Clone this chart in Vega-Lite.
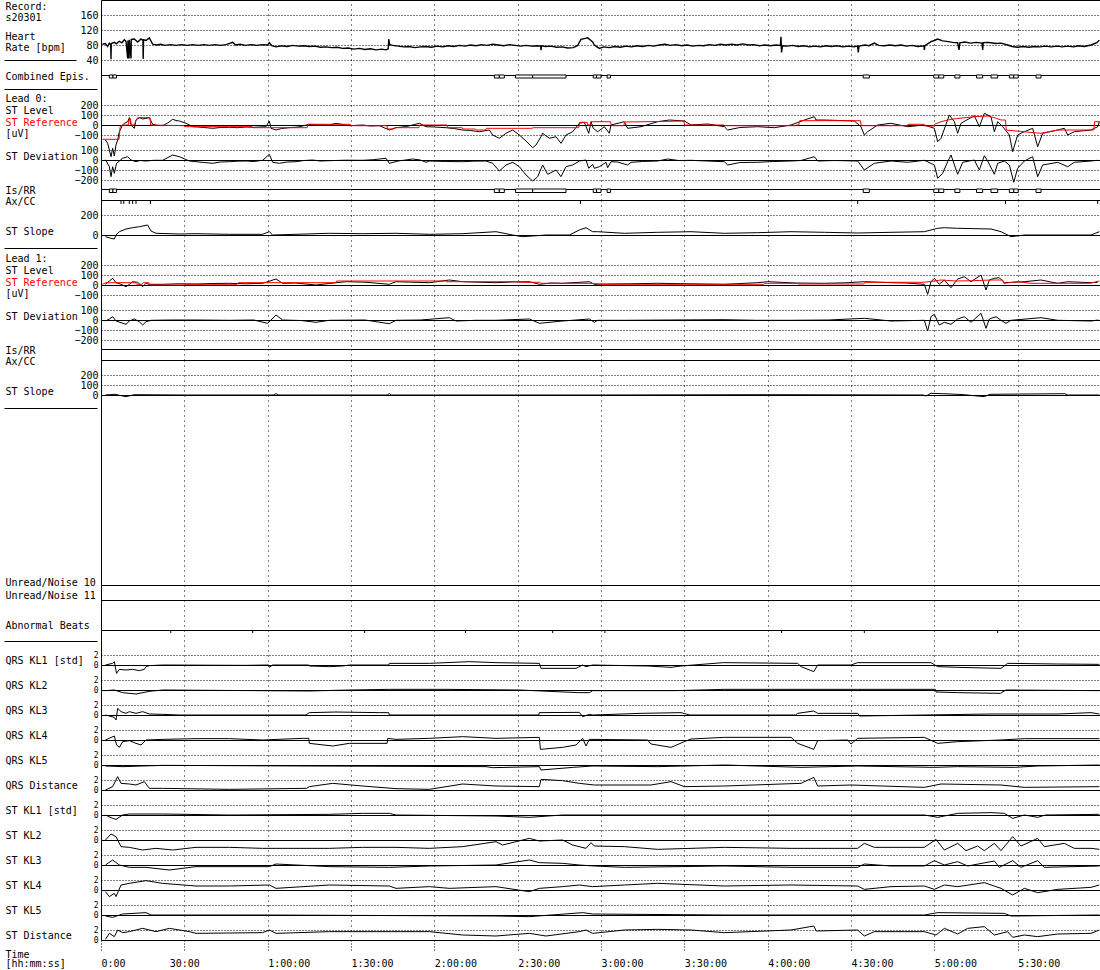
{
"$schema":"https://vega.github.io/schema/vega-lite/v6.json",
"padding":{"left":3,"top":0,"right":0,"bottom":0},
"background":"#ffffff",
"spacing":0,
"bounds":"flush",
"resolve":{"scale":{"x":"independent","y":"independent"}},
"datasets":{
"hr":[{"t":0.5,"v":82},{"t":1.6,"v":84},{"t":2.4,"v":76},{"t":3.0,"v":85},{"t":3.5,"v":81},{"t":3.6,"v":42},{"t":3.7,"v":84},{"t":4.8,"v":87},{"t":5.5,"v":83},{"t":6.6,"v":90},{"t":7.5,"v":86},{"t":8.4,"v":94},{"t":9.0,"v":90},{"t":9.6,"v":44},{"t":9.7,"v":92},{"t":10.1,"v":44},{"t":10.2,"v":94},{"t":10.8,"v":44},{"t":10.9,"v":95},{"t":12,"v":96},{"t":13.2,"v":88},{"t":14.4,"v":96},{"t":15.1,"v":92},{"t":15.2,"v":43},{"t":15.3,"v":94},{"t":16.2,"v":92},{"t":17.4,"v":99},{"t":18.6,"v":82},{"t":20,"v":80},{"t":21.5,"v":82},{"t":23,"v":79},{"t":25,"v":81},{"t":27,"v":79},{"t":29,"v":81},{"t":31,"v":79},{"t":33,"v":81},{"t":35,"v":79},{"t":37,"v":81},{"t":39,"v":79},{"t":41,"v":81},{"t":43,"v":79},{"t":45,"v":81},{"t":47.4,"v":87},{"t":48.5,"v":80},{"t":50,"v":82},{"t":52,"v":79},{"t":54,"v":81},{"t":56,"v":79},{"t":58,"v":81},{"t":60,"v":80},{"t":60.6,"v":86},{"t":61.5,"v":78},{"t":63,"v":75},{"t":65,"v":78},{"t":67,"v":76},{"t":69,"v":79},{"t":71,"v":77},{"t":73,"v":78},{"t":75,"v":76},{"t":77,"v":77},{"t":79,"v":74},{"t":81,"v":75},{"t":83,"v":73},{"t":85,"v":74},{"t":87,"v":71},{"t":89,"v":72},{"t":91,"v":69},{"t":93,"v":71},{"t":95,"v":68},{"t":97,"v":70},{"t":99,"v":67},{"t":101,"v":69},{"t":102.6,"v":67},{"t":103.4,"v":70},{"t":103.6,"v":96},{"t":103.9,"v":81},{"t":105,"v":79},{"t":107,"v":77},{"t":109,"v":75},{"t":111,"v":76},{"t":113,"v":73},{"t":115,"v":75},{"t":117,"v":76},{"t":119,"v":74},{"t":121,"v":77},{"t":123,"v":75},{"t":125,"v":78},{"t":127,"v":76},{"t":129,"v":79},{"t":131,"v":77},{"t":133,"v":80},{"t":135,"v":78},{"t":137,"v":81},{"t":139,"v":79},{"t":141,"v":82},{"t":143,"v":80},{"t":145,"v":78},{"t":147,"v":81},{"t":149,"v":79},{"t":151,"v":77},{"t":153,"v":79},{"t":155,"v":77},{"t":157,"v":78},{"t":158.3,"v":77},{"t":158.4,"v":66},{"t":158.6,"v":78},{"t":160,"v":76},{"t":162,"v":77},{"t":164,"v":74},{"t":166,"v":75},{"t":168,"v":72},{"t":170,"v":73},{"t":171.5,"v":78},{"t":172.8,"v":95},{"t":174,"v":97},{"t":175.2,"v":99},{"t":176.4,"v":92},{"t":177,"v":88},{"t":177.6,"v":80},{"t":179.4,"v":71},{"t":181,"v":75},{"t":183,"v":73},{"t":185,"v":76},{"t":187,"v":74},{"t":189,"v":77},{"t":191,"v":75},{"t":193,"v":78},{"t":195,"v":76},{"t":197,"v":79},{"t":199,"v":77},{"t":201,"v":80},{"t":203,"v":82},{"t":205,"v":79},{"t":207,"v":81},{"t":209,"v":78},{"t":211,"v":80},{"t":213,"v":77},{"t":215,"v":79},{"t":217,"v":78},{"t":219,"v":81},{"t":221,"v":79},{"t":223,"v":82},{"t":225,"v":80},{"t":227,"v":82},{"t":229,"v":80},{"t":231,"v":83},{"t":233,"v":80},{"t":235,"v":81},{"t":237,"v":78},{"t":239,"v":80},{"t":241,"v":78},{"t":243,"v":80},{"t":244.6,"v":79},{"t":244.8,"v":102},{"t":245,"v":60},{"t":245.3,"v":78},{"t":247,"v":77},{"t":249,"v":79},{"t":251,"v":76},{"t":253,"v":78},{"t":255,"v":75},{"t":257,"v":77},{"t":259,"v":75},{"t":261,"v":78},{"t":263,"v":76},{"t":265,"v":78},{"t":267,"v":75},{"t":269,"v":77},{"t":271,"v":75},{"t":272.4,"v":77},{"t":272.6,"v":60},{"t":272.9,"v":77},{"t":275,"v":80},{"t":276.5,"v":78},{"t":278.4,"v":85},{"t":280,"v":79},{"t":282,"v":78},{"t":284,"v":80},{"t":286,"v":78},{"t":288,"v":80},{"t":290,"v":77},{"t":292,"v":79},{"t":294,"v":76},{"t":296.3,"v":78},{"t":296.4,"v":67},{"t":296.6,"v":78},{"t":298.8,"v":89},{"t":300,"v":92},{"t":301.2,"v":96},{"t":303,"v":91},{"t":305,"v":89},{"t":306.6,"v":87},{"t":308.4,"v":86},{"t":308.9,"v":67},{"t":309.2,"v":86},{"t":311,"v":88},{"t":313,"v":85},{"t":315,"v":87},{"t":317.2,"v":85},{"t":317.4,"v":67},{"t":317.6,"v":86},{"t":319,"v":87},{"t":320.4,"v":86},{"t":322,"v":84},{"t":324,"v":85},{"t":326.4,"v":80},{"t":328,"v":76},{"t":330,"v":74},{"t":332,"v":76},{"t":334,"v":74},{"t":336,"v":76},{"t":338,"v":75},{"t":340,"v":77},{"t":342,"v":75},{"t":344.4,"v":77},{"t":346,"v":75},{"t":348,"v":77},{"t":350,"v":75},{"t":352,"v":78},{"t":354,"v":76},{"t":356.4,"v":80},{"t":358.5,"v":86},{"t":359.4,"v":93}],
"epis":[{"s":3.0,"e":4.3},{"s":4.3,"e":5.6},{"s":141.6,"e":143.4},{"s":143.4,"e":145.2},{"s":149.2,"e":155.4},{"s":155.4,"e":167.4},{"s":177.2,"e":178.4},{"s":178.4,"e":180},{"s":182.2,"e":183.4},{"s":274.4,"e":276.6},{"s":299.8,"e":301.6},{"s":301.6,"e":303.4},{"s":307.4,"e":309.2},{"s":315.2,"e":317.4},{"s":320.4,"e":322.8},{"s":327,"e":328.6},{"s":328.6,"e":330.2},{"s":336.6,"e":338.4}],
"axcc":[{"t":7.2},{"t":8.2},{"t":10.2},{"t":11.4},{"t":12.6},{"t":17.8},{"t":172.6},{"t":272.4},{"t":325.6},{"t":358.8}],
"ab":[{"t":25.1},{"t":54.6},{"t":94.9},{"t":131.2},{"t":162.6},{"t":181.4},{"t":245},{"t":274.8},{"t":322.8}],
"l0lev":[{"t":1.6,"v":-150},{"t":2.4,"v":-183},{"t":3.6,"v":-317},{"t":4.2,"v":-233},{"t":4.8,"v":-310},{"t":5.4,"v":-200},{"t":6.0,"v":-150},{"t":6.6,"v":-67},{"t":7.8,"v":0},{"t":8.4,"v":17},{"t":9.6,"v":33},{"t":10.2,"v":70},{"t":10.8,"v":0},{"t":12,"v":-33},{"t":12.6,"v":50},{"t":13.8,"v":73},{"t":15,"v":60},{"t":16.2,"v":67},{"t":17.4,"v":73},{"t":18.6,"v":7},{"t":20,"v":-3},{"t":22.2,"v":-7},{"t":24,"v":20},{"t":25.8,"v":57},{"t":27,"v":45},{"t":28.2,"v":40},{"t":30.6,"v":17},{"t":33,"v":-17},{"t":35,"v":-20},{"t":37.8,"v":-27},{"t":40.2,"v":-33},{"t":43,"v":-25},{"t":46.2,"v":-23},{"t":49,"v":-27},{"t":52.2,"v":-20},{"t":55,"v":-23},{"t":59.4,"v":-17},{"t":60.6,"v":40},{"t":61.2,"v":-33},{"t":63,"v":-50},{"t":65,"v":-35},{"t":67.8,"v":-27},{"t":71,"v":-20},{"t":75,"v":7},{"t":78,"v":3},{"t":82.2,"v":0},{"t":84.6,"v":17},{"t":87,"v":5},{"t":89.4,"v":-7},{"t":94.2,"v":0},{"t":97,"v":-10},{"t":100.2,"v":-7},{"t":103.8,"v":-50},{"t":106.2,"v":-27},{"t":110,"v":-15},{"t":114.6,"v":17},{"t":117,"v":-17},{"t":120,"v":-20},{"t":124.2,"v":-27},{"t":127,"v":-35},{"t":130.2,"v":-50},{"t":133,"v":-55},{"t":136.2,"v":-67},{"t":139.8,"v":-50},{"t":141,"v":-100},{"t":143.4,"v":-133},{"t":145.8,"v":-83},{"t":148.2,"v":-50},{"t":150.6,"v":-100},{"t":153,"v":-160},{"t":155.4,"v":-227},{"t":156.6,"v":-200},{"t":158.4,"v":-117},{"t":159,"v":-83},{"t":161.4,"v":-133},{"t":163.8,"v":-117},{"t":165.6,"v":-183},{"t":167.4,"v":-100},{"t":169.8,"v":-67},{"t":172.2,"v":17},{"t":174,"v":27},{"t":175.6,"v":-83},{"t":176.4,"v":33},{"t":177.2,"v":-33},{"t":178.8,"v":-67},{"t":181.2,"v":-17},{"t":183,"v":-83},{"t":183.6,"v":0},{"t":188.4,"v":33},{"t":189.6,"v":-33},{"t":194.4,"v":-17},{"t":200.4,"v":33},{"t":204.6,"v":50},{"t":210,"v":40},{"t":212.4,"v":0},{"t":218.4,"v":10},{"t":224.4,"v":-17},{"t":225.6,"v":-50},{"t":230,"v":-25},{"t":236.4,"v":-17},{"t":242.4,"v":-27},{"t":248.4,"v":0},{"t":253.2,"v":50},{"t":256.8,"v":83},{"t":257.4,"v":50},{"t":260.4,"v":50},{"t":266,"v":45},{"t":271.2,"v":40},{"t":273.6,"v":-17},{"t":274.8,"v":-100},{"t":276,"v":-67},{"t":279.6,"v":0},{"t":284.4,"v":17},{"t":290.4,"v":-17},{"t":296.4,"v":0},{"t":300,"v":-33},{"t":301.2,"v":-167},{"t":302.4,"v":-133},{"t":304.2,"v":7},{"t":305.4,"v":100},{"t":307.2,"v":33},{"t":308.4,"v":-83},{"t":309.6,"v":17},{"t":314.4,"v":93},{"t":316.2,"v":-17},{"t":318,"v":117},{"t":320.4,"v":83},{"t":321.6,"v":-67},{"t":322.8,"v":33},{"t":324.6,"v":-17},{"t":327,"v":-100},{"t":328.2,"v":-267},{"t":330,"v":-100},{"t":332.4,"v":-67},{"t":335.4,"v":-33},{"t":337.2,"v":-217},{"t":339,"v":-83},{"t":344.4,"v":-50},{"t":346.8,"v":-33},{"t":348,"v":-100},{"t":350.4,"v":-67},{"t":356.4,"v":-50},{"t":358.8,"v":-17},{"t":359.4,"v":33}],
"l0ref":[{"t":0.5,"v":-143},{"t":6.5,"v":-143},{"t":6.9,"v":-17},{"t":7.8,"v":0},{"t":9.8,"v":0},{"t":10.2,"v":77},{"t":10.6,"v":60},{"t":10.9,"v":0},{"t":12,"v":0},{"t":12.6,"v":50},{"t":13.2,"v":73},{"t":17.6,"v":73},{"t":17.9,"v":0},{"t":29.8,"v":-7},{"t":30.1,"v":-17},{"t":54.4,"v":-17},{"t":54.7,"v":-27},{"t":74.2,"v":-27},{"t":74.5,"v":7},{"t":89.8,"v":7},{"t":90.1,"v":-7},{"t":102.9,"v":-7},{"t":103.2,"v":-40},{"t":105.4,"v":-40},{"t":105.7,"v":-27},{"t":114.4,"v":-27},{"t":114.7,"v":0},{"t":124.6,"v":0},{"t":124.9,"v":-27},{"t":130,"v":-27},{"t":130.3,"v":-40},{"t":134.8,"v":-40},{"t":135.1,"v":-50},{"t":138.4,"v":-50},{"t":138.7,"v":-33},{"t":155.2,"v":-33},{"t":155.5,"v":-27},{"t":172,"v":-27},{"t":172.3,"v":27},{"t":175,"v":27},{"t":175.3,"v":0},{"t":176.1,"v":0},{"t":176.4,"v":33},{"t":183.4,"v":33},{"t":183.7,"v":-7},{"t":188.2,"v":-7},{"t":188.5,"v":30},{"t":200,"v":35},{"t":209.8,"v":40},{"t":210.1,"v":0},{"t":224.2,"v":0},{"t":224.5,"v":-7},{"t":250,"v":-7},{"t":250.3,"v":0},{"t":251.2,"v":0},{"t":251.5,"v":43},{"t":273.4,"v":43},{"t":273.7,"v":-7},{"t":290.2,"v":-7},{"t":290.5,"v":7},{"t":296.2,"v":7},{"t":296.5,"v":-10},{"t":299.8,"v":-10},{"t":300.1,"v":7},{"t":302.4,"v":33},{"t":306,"v":57},{"t":310,"v":70},{"t":314.4,"v":83},{"t":319.2,"v":90},{"t":322,"v":70},{"t":324,"v":50},{"t":325.6,"v":50},{"t":325.9,"v":-50},{"t":332,"v":-67},{"t":338.4,"v":-83},{"t":344.4,"v":-50},{"t":357.4,"v":-50},{"t":357.7,"v":33},{"t":359.6,"v":33}],
"l0dev":[{"t":1.6,"v":3},{"t":3,"v":-67},{"t":3.6,"v":-167},{"t":4.2,"v":-67},{"t":4.8,"v":-133},{"t":5.6,"v":-33},{"t":6.6,"v":-10},{"t":7.8,"v":17},{"t":9.6,"v":33},{"t":10.8,"v":0},{"t":12.6,"v":-17},{"t":14,"v":-5},{"t":16.2,"v":-10},{"t":19,"v":-3},{"t":22.2,"v":-3},{"t":25.8,"v":50},{"t":28.2,"v":33},{"t":31.8,"v":-10},{"t":34.2,"v":-17},{"t":37,"v":-25},{"t":40.2,"v":-33},{"t":43,"v":-20},{"t":46.2,"v":-17},{"t":49,"v":-12},{"t":52.2,"v":-10},{"t":55,"v":-15},{"t":58.2,"v":-3},{"t":60.6,"v":57},{"t":61.8,"v":-23},{"t":64.2,"v":-33},{"t":67,"v":-20},{"t":70.2,"v":-17},{"t":73,"v":-5},{"t":76.2,"v":0},{"t":79,"v":-10},{"t":82.2,"v":-7},{"t":88,"v":-2},{"t":94.2,"v":-3},{"t":98,"v":3},{"t":102.6,"v":17},{"t":103.8,"v":-33},{"t":107,"v":-10},{"t":112.2,"v":10},{"t":115,"v":0},{"t":117,"v":-23},{"t":118.2,"v":-10},{"t":124,"v":-15},{"t":130.2,"v":-17},{"t":134,"v":-12},{"t":138.6,"v":-10},{"t":141,"v":-33},{"t":143.4,"v":-110},{"t":145.8,"v":-50},{"t":148.2,"v":-23},{"t":150.6,"v":-67},{"t":153,"v":-150},{"t":155.4,"v":-210},{"t":157.2,"v":-167},{"t":159,"v":-50},{"t":160.8,"v":-143},{"t":163.8,"v":-100},{"t":165.6,"v":-167},{"t":167.4,"v":-67},{"t":169.8,"v":-50},{"t":172.2,"v":-10},{"t":174.6,"v":0},{"t":175.6,"v":-83},{"t":177,"v":-43},{"t":177.6,"v":-83},{"t":179.4,"v":-67},{"t":181.8,"v":-23},{"t":182.4,"v":-77},{"t":183.6,"v":-17},{"t":186,"v":-20},{"t":189.6,"v":-50},{"t":190.8,"v":-23},{"t":195,"v":-15},{"t":200.4,"v":-10},{"t":204,"v":10},{"t":208,"v":-5},{"t":212.4,"v":-3},{"t":218,"v":-10},{"t":224.4,"v":-17},{"t":225.6,"v":-50},{"t":230,"v":-25},{"t":236.4,"v":-23},{"t":242,"v":-15},{"t":248.4,"v":-10},{"t":252,"v":-5},{"t":256.8,"v":33},{"t":258,"v":-10},{"t":264,"v":-5},{"t":272.4,"v":-10},{"t":274.8,"v":-100},{"t":278.4,"v":-33},{"t":284.4,"v":-10},{"t":290.4,"v":-23},{"t":296.4,"v":-3},{"t":300,"v":-50},{"t":301.2,"v":-183},{"t":303,"v":-133},{"t":304.8,"v":-17},{"t":306,"v":50},{"t":308.4,"v":-143},{"t":310.2,"v":-23},{"t":314.4,"v":0},{"t":316.2,"v":-100},{"t":318,"v":43},{"t":319.2,"v":-10},{"t":321.6,"v":-143},{"t":322.8,"v":-33},{"t":325.2,"v":-10},{"t":327,"v":-50},{"t":328.6,"v":-223},{"t":330,"v":-83},{"t":332.4,"v":-10},{"t":335.4,"v":33},{"t":337.2,"v":-167},{"t":339,"v":-50},{"t":344.4,"v":-23},{"t":348,"v":-67},{"t":350.4,"v":-23},{"t":356.4,"v":-10},{"t":358.8,"v":-3}],
"l0sl":[{"t":1.6,"v":-17},{"t":3.6,"v":-33},{"t":4.8,"v":-40},{"t":5.4,"v":0},{"t":6.6,"v":33},{"t":9,"v":60},{"t":11.4,"v":73},{"t":13.8,"v":83},{"t":16.8,"v":100},{"t":18,"v":40},{"t":19.8,"v":17},{"t":28.2,"v":10},{"t":34.2,"v":13},{"t":46.2,"v":7},{"t":58.2,"v":7},{"t":60.6,"v":33},{"t":61.8,"v":0},{"t":70.2,"v":7},{"t":82.2,"v":17},{"t":94.2,"v":13},{"t":106.2,"v":17},{"t":118.2,"v":7},{"t":130.2,"v":13},{"t":142.2,"v":33},{"t":148.2,"v":0},{"t":151.8,"v":-17},{"t":160.2,"v":0},{"t":168.6,"v":0},{"t":172.2,"v":50},{"t":174.6,"v":73},{"t":177,"v":33},{"t":178.8,"v":33},{"t":188.4,"v":17},{"t":200.4,"v":27},{"t":212.4,"v":33},{"t":224.4,"v":17},{"t":236.4,"v":23},{"t":248.4,"v":33},{"t":260.4,"v":27},{"t":272.4,"v":20},{"t":284.4,"v":27},{"t":296.4,"v":33},{"t":301.2,"v":67},{"t":303.6,"v":73},{"t":308.4,"v":67},{"t":320.4,"v":60},{"t":324,"v":33},{"t":327.6,"v":-17},{"t":332.4,"v":0},{"t":344.4,"v":0},{"t":356.4,"v":0},{"t":359.4,"v":33}],
"l1lev":[{"t":1.6,"v":7},{"t":3,"v":40},{"t":4.2,"v":67},{"t":5.4,"v":23},{"t":7,"v":10},{"t":9,"v":-17},{"t":10.2,"v":7},{"t":11.4,"v":33},{"t":13.2,"v":27},{"t":15,"v":-17},{"t":16.2,"v":17},{"t":17.4,"v":7},{"t":22.2,"v":7},{"t":28,"v":12},{"t":34.2,"v":10},{"t":40,"v":15},{"t":46.2,"v":17},{"t":52,"v":12},{"t":58.2,"v":17},{"t":63,"v":60},{"t":65.4,"v":17},{"t":70,"v":20},{"t":77.4,"v":0},{"t":82,"v":15},{"t":88.2,"v":33},{"t":95,"v":28},{"t":103.8,"v":7},{"t":106.2,"v":33},{"t":112,"v":28},{"t":118.2,"v":23},{"t":125.4,"v":50},{"t":130.2,"v":33},{"t":136,"v":28},{"t":142.2,"v":23},{"t":148,"v":30},{"t":154.2,"v":33},{"t":157.8,"v":7},{"t":162,"v":20},{"t":166.2,"v":17},{"t":171,"v":25},{"t":175.8,"v":33},{"t":177.6,"v":7},{"t":182.4,"v":10},{"t":190,"v":12},{"t":200.4,"v":17},{"t":212,"v":12},{"t":224.4,"v":7},{"t":236.4,"v":23},{"t":240,"v":33},{"t":250,"v":20},{"t":260.4,"v":17},{"t":268,"v":22},{"t":274.8,"v":33},{"t":284.4,"v":23},{"t":290,"v":20},{"t":296.4,"v":7},{"t":297.6,"v":-93},{"t":298.8,"v":33},{"t":300,"v":67},{"t":301.8,"v":7},{"t":303.6,"v":50},{"t":306,"v":-27},{"t":308.4,"v":60},{"t":310.8,"v":83},{"t":313.2,"v":33},{"t":316.8,"v":100},{"t":318.6,"v":-50},{"t":319.8,"v":50},{"t":321.6,"v":67},{"t":323.4,"v":73},{"t":325.2,"v":23},{"t":332.4,"v":33},{"t":338.4,"v":50},{"t":344.4,"v":17},{"t":348,"v":33},{"t":356.4,"v":23},{"t":358.8,"v":27}],
"l1ref":[{"t":0.5,"v":7},{"t":1.8,"v":23},{"t":12.4,"v":23},{"t":12.8,"v":7},{"t":14.8,"v":7},{"t":15.2,"v":23},{"t":17.2,"v":23},{"t":17.6,"v":0},{"t":29.6,"v":0},{"t":30,"v":7},{"t":49,"v":7},{"t":49.4,"v":23},{"t":84.4,"v":23},{"t":84.8,"v":40},{"t":124,"v":40},{"t":124.4,"v":33},{"t":150,"v":33},{"t":150.4,"v":27},{"t":158,"v":27},{"t":158.4,"v":17},{"t":176,"v":17},{"t":181,"v":7},{"t":238.6,"v":7},{"t":239,"v":17},{"t":250.6,"v":17},{"t":251,"v":10},{"t":274.6,"v":10},{"t":275,"v":27},{"t":296,"v":27},{"t":300,"v":40},{"t":302.4,"v":50},{"t":308,"v":40},{"t":314,"v":43},{"t":320.4,"v":50},{"t":324.6,"v":50},{"t":325,"v":17},{"t":330,"v":33},{"t":334.8,"v":17},{"t":356,"v":17},{"t":359.4,"v":40}],
"l1dev":[{"t":1.6,"v":-10},{"t":3,"v":10},{"t":4.2,"v":33},{"t":5.4,"v":-10},{"t":9,"v":-43},{"t":10.2,"v":-10},{"t":12,"v":10},{"t":13.8,"v":-17},{"t":15,"v":-50},{"t":16.2,"v":-17},{"t":18,"v":-3},{"t":25,"v":0},{"t":34.2,"v":0},{"t":46.2,"v":-3},{"t":55,"v":0},{"t":60,"v":-33},{"t":63,"v":50},{"t":65.4,"v":0},{"t":72,"v":-5},{"t":77.4,"v":-23},{"t":82.2,"v":-3},{"t":95,"v":0},{"t":103.8,"v":-37},{"t":106.2,"v":-3},{"t":115,"v":0},{"t":125.4,"v":23},{"t":127.8,"v":-10},{"t":135,"v":-3},{"t":142.2,"v":-3},{"t":154.2,"v":10},{"t":157.8,"v":-33},{"t":166.2,"v":-10},{"t":175.8,"v":10},{"t":177.6,"v":-23},{"t":178.8,"v":-3},{"t":188.4,"v":-3},{"t":205,"v":0},{"t":224.4,"v":3},{"t":236,"v":-3},{"t":248.4,"v":-3},{"t":262,"v":0},{"t":274.8,"v":17},{"t":284.4,"v":-10},{"t":296.4,"v":-3},{"t":297.6,"v":-110},{"t":298.8,"v":33},{"t":300,"v":57},{"t":301.8,"v":-50},{"t":303.6,"v":-23},{"t":306,"v":-43},{"t":308.4,"v":10},{"t":310.8,"v":33},{"t":313.2,"v":-23},{"t":316.8,"v":67},{"t":318.6,"v":-83},{"t":319.8,"v":10},{"t":322.2,"v":33},{"t":324,"v":-3},{"t":325.8,"v":-33},{"t":327.6,"v":-3},{"t":338.4,"v":23},{"t":344.4,"v":-3},{"t":356.4,"v":-10},{"t":359,"v":0}],
"l1sl":[{"t":1.6,"v":0},{"t":5,"v":7},{"t":9,"v":-17},{"t":12,"v":3},{"t":30,"v":0},{"t":62,"v":0},{"t":63,"v":13},{"t":64,"v":0},{"t":103,"v":0},{"t":103.8,"v":13},{"t":104.5,"v":0},{"t":180,"v":0},{"t":240,"v":3},{"t":296,"v":0},{"t":297,"v":-10},{"t":298.8,"v":17},{"t":303,"v":13},{"t":310,"v":5},{"t":318,"v":-17},{"t":320,"v":7},{"t":347,"v":13},{"t":348,"v":0},{"t":359.4,"v":0}],
"k1":[{"t":1.6,"v":0},{"t":4.2,"v":0.33},{"t":4.8,"v":0.67},{"t":5.6,"v":-1.67},{"t":6.6,"v":-0.87},{"t":9,"v":-1},{"t":11.4,"v":-0.87},{"t":13.8,"v":-1.13},{"t":15.6,"v":-0.87},{"t":16.2,"v":-0.33},{"t":17.4,"v":-0.13},{"t":22.2,"v":0},{"t":52.2,"v":-0.07},{"t":60.4,"v":0},{"t":60.6,"v":-0.47},{"t":61.8,"v":0},{"t":74.8,"v":0},{"t":75,"v":-0.2},{"t":82.2,"v":-0.33},{"t":87,"v":-0.2},{"t":89.4,"v":0},{"t":103.6,"v":0},{"t":103.8,"v":0.33},{"t":118.2,"v":0.33},{"t":124.2,"v":0.47},{"t":132.6,"v":0.67},{"t":142.2,"v":0.47},{"t":157.8,"v":0.33},{"t":158.4,"v":-0.67},{"t":171,"v":-0.67},{"t":173.4,"v":0},{"t":174.6,"v":-0.33},{"t":177,"v":0},{"t":196.8,"v":-0.2},{"t":205.2,"v":-0.47},{"t":208.8,"v":-0.2},{"t":224,"v":0.47},{"t":250.8,"v":0.33},{"t":252,"v":-0.33},{"t":256.6,"v":-1.33},{"t":258,"v":0},{"t":270,"v":0},{"t":272.4,"v":0.47},{"t":298.8,"v":0.47},{"t":301.2,"v":-0.33},{"t":308.4,"v":-0.47},{"t":324,"v":-0.67},{"t":326.4,"v":0.33},{"t":344.4,"v":0.2},{"t":359.4,"v":0.13}],
"k2":[{"t":1.6,"v":-0.13},{"t":4.8,"v":0},{"t":7.8,"v":-0.53},{"t":12.6,"v":-0.8},{"t":17.4,"v":-0.27},{"t":22.2,"v":0},{"t":75,"v":-0.2},{"t":89.4,"v":0},{"t":103.8,"v":0.13},{"t":124.2,"v":0.13},{"t":150.6,"v":0},{"t":172,"v":-0.53},{"t":175.8,"v":-0.53},{"t":177,"v":-0.13},{"t":206.4,"v":-0.13},{"t":224.4,"v":0.13},{"t":272.4,"v":0.13},{"t":300.4,"v":0.13},{"t":300.6,"v":-0.4},{"t":308.4,"v":-0.53},{"t":323.8,"v":-0.67},{"t":325.8,"v":0},{"t":359.4,"v":-0.13}],
"k3":[{"t":1.6,"v":0},{"t":4.8,"v":-0.47},{"t":5.4,"v":-1},{"t":6,"v":1.33},{"t":7.2,"v":0.67},{"t":9,"v":0.33},{"t":10.2,"v":0.67},{"t":12.6,"v":0.33},{"t":15,"v":0.67},{"t":17.4,"v":0.2},{"t":22.2,"v":0.13},{"t":28.2,"v":0},{"t":73.8,"v":0},{"t":75,"v":0.47},{"t":84.6,"v":0.6},{"t":100.2,"v":0.47},{"t":103.6,"v":0.47},{"t":103.8,"v":0},{"t":157.6,"v":0},{"t":157.8,"v":0.47},{"t":172.2,"v":0.53},{"t":173.4,"v":-0.33},{"t":175.8,"v":0.13},{"t":177,"v":0},{"t":194.4,"v":0.33},{"t":208.8,"v":0.47},{"t":212,"v":0},{"t":250,"v":0},{"t":250.8,"v":0.33},{"t":256.6,"v":0.8},{"t":258,"v":0.33},{"t":272.4,"v":0.33},{"t":273,"v":-0.2},{"t":296.4,"v":0},{"t":320.4,"v":0.2},{"t":344.4,"v":0.2},{"t":356.4,"v":0.47},{"t":359.4,"v":0.2}],
"k4":[{"t":1.6,"v":0},{"t":4.8,"v":0.8},{"t":5.6,"v":-1},{"t":6.6,"v":-1.47},{"t":7.8,"v":-0.33},{"t":10.2,"v":-0.13},{"t":12.6,"v":-0.67},{"t":14.4,"v":-1},{"t":16.2,"v":0},{"t":22.2,"v":0.13},{"t":34.2,"v":0.27},{"t":46.2,"v":0.27},{"t":58.2,"v":0},{"t":72.6,"v":0.33},{"t":74.8,"v":0.33},{"t":75,"v":-0.67},{"t":83.4,"v":-1.2},{"t":89.4,"v":-0.67},{"t":103,"v":-0.67},{"t":103.2,"v":0.33},{"t":106.2,"v":0.13},{"t":118.2,"v":0.33},{"t":130.2,"v":0.67},{"t":142.2,"v":0.33},{"t":157.8,"v":0.53},{"t":158.2,"v":-1.87},{"t":166.2,"v":-1.47},{"t":171,"v":-1},{"t":173.4,"v":0.33},{"t":174.6,"v":-1.2},{"t":175.8,"v":0.13},{"t":196.8,"v":0},{"t":198,"v":-0.8},{"t":205.2,"v":-1.47},{"t":210,"v":-0.33},{"t":212.4,"v":0.2},{"t":224.4,"v":0.53},{"t":248.4,"v":0.53},{"t":250.8,"v":-0.67},{"t":256.6,"v":-1.87},{"t":258,"v":-0.13},{"t":268.8,"v":0},{"t":270,"v":-0.8},{"t":272.4,"v":0.33},{"t":296.4,"v":0.53},{"t":301.2,"v":-0.67},{"t":308.4,"v":-0.33},{"t":324,"v":0},{"t":332.4,"v":0.27},{"t":359.4,"v":0.27}],
"k5":[{"t":1.6,"v":-0.2},{"t":7.8,"v":-0.33},{"t":22.2,"v":-0.07},{"t":75,"v":-0.2},{"t":138.6,"v":-0.33},{"t":141,"v":-0.53},{"t":157.8,"v":-0.33},{"t":158.4,"v":-1},{"t":170,"v":-0.47},{"t":177,"v":-0.2},{"t":200.4,"v":-0.33},{"t":224.4,"v":0},{"t":252,"v":-0.47},{"t":272.4,"v":-0.2},{"t":300,"v":-0.47},{"t":308.4,"v":-0.33},{"t":328.8,"v":-0.47},{"t":337.2,"v":-0.2},{"t":359.4,"v":0}],
"k6":[{"t":1.6,"v":0},{"t":4.2,"v":0.67},{"t":6,"v":2.67},{"t":7.2,"v":1.33},{"t":10.2,"v":1.2},{"t":12.6,"v":1},{"t":15.6,"v":1.67},{"t":17.4,"v":0.33},{"t":22.2,"v":0.33},{"t":46.2,"v":0.13},{"t":74,"v":0.33},{"t":75,"v":0.67},{"t":83.4,"v":1.33},{"t":94.2,"v":0.8},{"t":106.2,"v":0.27},{"t":118.2,"v":0.13},{"t":130.2,"v":1.2},{"t":142.2,"v":0.8},{"t":157.8,"v":0.67},{"t":158.4,"v":2.13},{"t":166.2,"v":1.87},{"t":172.2,"v":1.33},{"t":177.6,"v":1},{"t":198,"v":1},{"t":205.2,"v":1.67},{"t":210,"v":0.67},{"t":224.4,"v":0.8},{"t":252,"v":1.33},{"t":256.6,"v":2.53},{"t":258,"v":0.8},{"t":270,"v":1},{"t":296.4,"v":0.53},{"t":302.4,"v":1.2},{"t":324,"v":1},{"t":332.4,"v":0.53},{"t":359.4,"v":0.67}],
"k7":[{"t":1.6,"v":0},{"t":4.2,"v":-0.67},{"t":5.4,"v":-0.87},{"t":7.8,"v":0},{"t":10.2,"v":0.2},{"t":22.2,"v":0.2},{"t":46.2,"v":0},{"t":82.2,"v":0.13},{"t":94.2,"v":0.33},{"t":103.8,"v":0.33},{"t":106.2,"v":0},{"t":142.2,"v":-0.2},{"t":154.2,"v":-0.47},{"t":166.2,"v":0},{"t":296.4,"v":0},{"t":301.2,"v":-0.47},{"t":308.4,"v":0.33},{"t":320.4,"v":0.47},{"t":325.2,"v":0.33},{"t":328.2,"v":-0.67},{"t":332.4,"v":0},{"t":337.2,"v":-0.47},{"t":340,"v":0},{"t":359.4,"v":0.13}],
"k8":[{"t":1.6,"v":0},{"t":3.6,"v":1.2},{"t":5.4,"v":0.67},{"t":7.2,"v":-1.33},{"t":10.2,"v":-1.47},{"t":15,"v":-2},{"t":19.8,"v":-1.67},{"t":25.8,"v":-2},{"t":34.2,"v":-1.47},{"t":46.2,"v":-1.47},{"t":58.2,"v":-1.67},{"t":82.2,"v":-1.67},{"t":94.2,"v":-1.47},{"t":106.2,"v":-1.47},{"t":118.2,"v":-1.67},{"t":130.2,"v":-1.33},{"t":142.2,"v":-0.33},{"t":144.6,"v":-1},{"t":154.2,"v":0.33},{"t":157.8,"v":-0.2},{"t":166.2,"v":0},{"t":169.8,"v":-1},{"t":174.6,"v":-1.67},{"t":176.4,"v":-0.53},{"t":177.6,"v":-1.2},{"t":188.4,"v":-1.33},{"t":200.4,"v":-1.87},{"t":224.4,"v":-1.47},{"t":248.4,"v":-1.67},{"t":272.4,"v":-1.67},{"t":274.8,"v":-0.67},{"t":278.4,"v":-1.47},{"t":296.4,"v":-1.47},{"t":300.6,"v":0.13},{"t":303.6,"v":-2},{"t":308.4,"v":-0.67},{"t":311.4,"v":-2.13},{"t":315.6,"v":-1.2},{"t":318,"v":-2.13},{"t":321.6,"v":-0.67},{"t":324,"v":-2.13},{"t":328.2,"v":0.67},{"t":331.2,"v":-1.2},{"t":337.2,"v":0.33},{"t":339.6,"v":-1.33},{"t":346.8,"v":-0.67},{"t":350.4,"v":-1.67},{"t":356.4,"v":-1.67},{"t":359.4,"v":-1.87}],
"k9":[{"t":1.6,"v":0},{"t":4.2,"v":1},{"t":6.6,"v":0},{"t":10.2,"v":-0.47},{"t":16.2,"v":-0.47},{"t":24.6,"v":-1},{"t":34.2,"v":-0.33},{"t":60.6,"v":-0.33},{"t":63,"v":0.2},{"t":82.2,"v":-0.33},{"t":103.8,"v":-0.47},{"t":118.2,"v":-0.2},{"t":142.2,"v":0},{"t":154.2,"v":1},{"t":157.8,"v":0.47},{"t":166.2,"v":0.33},{"t":172.2,"v":0},{"t":177.6,"v":-0.2},{"t":188.4,"v":-0.47},{"t":224.4,"v":-0.2},{"t":248.4,"v":-0.47},{"t":272.4,"v":-0.47},{"t":274.8,"v":0.2},{"t":284.4,"v":-0.2},{"t":296.4,"v":-0.2},{"t":300,"v":0.87},{"t":303.6,"v":0},{"t":308.4,"v":0.67},{"t":312,"v":-0.2},{"t":321.6,"v":0.8},{"t":323.4,"v":-0.47},{"t":328.2,"v":0.87},{"t":331.2,"v":-0.47},{"t":337.2,"v":0.87},{"t":339.6,"v":-0.47},{"t":359.4,"v":-0.2}],
"k10":[{"t":1.6,"v":-0.33},{"t":3,"v":-1.33},{"t":4.8,"v":-0.67},{"t":5.4,"v":-1.33},{"t":7.2,"v":1},{"t":10.2,"v":1.33},{"t":16.2,"v":1.87},{"t":22.2,"v":1.33},{"t":34.2,"v":0.8},{"t":46.2,"v":0.8},{"t":60.6,"v":1},{"t":63,"v":0.33},{"t":82.2,"v":1},{"t":103.8,"v":0.8},{"t":106.2,"v":0.33},{"t":118.2,"v":0.67},{"t":125.4,"v":0.33},{"t":142.2,"v":0.67},{"t":154.2,"v":-0.33},{"t":157.8,"v":0.33},{"t":166.2,"v":0.67},{"t":172.2,"v":1},{"t":177,"v":0.67},{"t":188.4,"v":1},{"t":200.4,"v":1.33},{"t":224.4,"v":0.8},{"t":248.4,"v":1},{"t":272.4,"v":0.8},{"t":274.8,"v":0.13},{"t":284.4,"v":0.67},{"t":296.4,"v":0.8},{"t":300,"v":0.13},{"t":303.6,"v":1},{"t":308.4,"v":0.67},{"t":318,"v":1.47},{"t":324,"v":0.33},{"t":328.2,"v":-1},{"t":332.4,"v":0.33},{"t":337.2,"v":-0.53},{"t":344.4,"v":0.13},{"t":356.4,"v":0.53},{"t":359.4,"v":1}],
"k11":[{"t":1.6,"v":-0.2},{"t":4.2,"v":-0.47},{"t":7.8,"v":0.2},{"t":16.2,"v":0.47},{"t":18,"v":0},{"t":58.2,"v":0},{"t":142.2,"v":-0.2},{"t":154.2,"v":-0.33},{"t":173.4,"v":0.47},{"t":177,"v":0.2},{"t":224.4,"v":0},{"t":296.4,"v":0},{"t":301.2,"v":0.47},{"t":325.2,"v":0.33},{"t":327.6,"v":-0.2},{"t":359.4,"v":0}],
"k12":[{"t":1.6,"v":0.13},{"t":3,"v":1.33},{"t":4.8,"v":0.67},{"t":6,"v":2},{"t":7.8,"v":1.47},{"t":10.2,"v":1.67},{"t":15,"v":2.33},{"t":19.8,"v":1.67},{"t":24.6,"v":2.33},{"t":31.8,"v":1.67},{"t":34.2,"v":1.33},{"t":58.2,"v":1.47},{"t":60.6,"v":2},{"t":63,"v":1.33},{"t":82.2,"v":1.67},{"t":106.2,"v":1.67},{"t":118.2,"v":1.67},{"t":130.2,"v":1},{"t":142.2,"v":0.8},{"t":154.2,"v":1.33},{"t":160.2,"v":0.8},{"t":172.2,"v":1.67},{"t":174.6,"v":2},{"t":177,"v":1.33},{"t":188.4,"v":2},{"t":200.4,"v":2.13},{"t":212.4,"v":2},{"t":224.4,"v":1.47},{"t":248.4,"v":2},{"t":256.6,"v":2.8},{"t":257.5,"v":1.8},{"t":272.4,"v":2},{"t":274.8,"v":0.8},{"t":278.4,"v":1.67},{"t":296.4,"v":1.67},{"t":300.6,"v":1},{"t":303.6,"v":2.33},{"t":308.4,"v":1.2},{"t":312,"v":2.33},{"t":318,"v":2.67},{"t":321.6,"v":1},{"t":326.4,"v":1.67},{"t":328.2,"v":0.53},{"t":332.4,"v":1},{"t":337.2,"v":0.67},{"t":344.4,"v":1.2},{"t":356.4,"v":1.33},{"t":359.4,"v":2}]
},
"vconcat":[
{"width":1000,"height":75,"data":{"name":"hr"},"mark":{"type":"line","strokeWidth":1.4},"encoding":{
 "x":{"field":"t","type":"quantitative","scale":{"domain":[0,360],"nice":false,"zero":false},"axis":{"orient":"top","domain":true,"values":[0,30,60,90,120,150,180,210,240,270,300,330,359.64],"gridDash":{"condition":{"test":"datum.value>359","value":[]},"value":[1,4]},"title":["Record:","s20301"],"titleX":-96,"titleY":9.6,"titleAlign":"left","titleBaseline":"alphabetic","titleAngle":0,"titleLineHeight":10.5}},
 "y":{"field":"v","type":"quantitative","scale":{"domain":[0,200],"nice":false,"zero":false},"axis":{"values":[0,40,80,120,160],"labelExpr":"datum.value==0?'':datum.label","gridDash":{"condition":{"test":"datum.value==0","value":[]},"value":[1,2]},"tickColor":{"condition":{"test":"datum.value==40","value":"#000000"},"value":"transparent"},"tickDash":[0,25,72,200],"title":["Heart","Rate [bpm]"],"titleY":39.1,"titleLineHeight":11}}}},
{"width":1000,"height":10,"data":{"name":"epis"},"mark":{"type":"rect","fill":"#ffffff","stroke":"#000000","strokeWidth":1},"encoding":{
 "x":{"field":"s","type":"quantitative","scale":{"domain":[0,360],"nice":false,"zero":false},"axis":{"values":[0,30,60,90,120,150,180,210,240,270,300,330,359.64],"title":null,"gridDash":{"condition":{"test":"datum.value>359","value":[]},"value":[1,4]}}},
 "x2":{"field":"e"},
 "y":{"datum":10,"type":"quantitative","scale":{"domain":[0,10],"nice":false,"zero":false},"axis":{"values":[],"grid":false,"labels":false,"title":"Combined Epis.","titleY":4.6}},
 "y2":{"datum":7}}},
{"width":1000,"height":55,"layer":[
 {"data":{"name":"l0lev"},"mark":"line","encoding":{
  "x":{"field":"t","type":"quantitative","scale":{"domain":[0,360],"nice":false,"zero":false},"axis":{"values":[0,30,60,90,120,150,180,210,240,270,300,330,359.64],"title":null,"gridDash":{"condition":{"test":"datum.value>359","value":[]},"value":[1,4]}}},
  "y":{"field":"v","type":"quantitative","scale":{"domain":[-150,400],"nice":false,"zero":false},"axis":{"values":[-100,0,100,200,360],"labelExpr":"datum.value>300?'':datum.label","gridDash":{"condition":{"test":"datum.value==0","value":[]},"value":[1,2]},"gridOpacity":{"condition":{"test":"datum.value>300","value":0},"value":1},"tickColor":{"condition":{"test":"datum.value>300","value":"#000000"},"value":"transparent"},"title":["Lead 0:","ST Level"],"titleY":16.6,"titleLineHeight":11.8}}}},
 {"data":{"name":"l0ref"},"mark":{"type":"line","color":"#ff0000"},"encoding":{
  "x":{"field":"t","type":"quantitative","scale":{"domain":[0,360],"nice":false,"zero":false},"axis":{"values":[0,30,60,90,120,150,180,210,240,270,300,330,359.64],"title":null,"gridDash":{"condition":{"test":"datum.value>359","value":[]},"value":[1,4]}}},
  "y":{"field":"v","type":"quantitative","scale":{"domain":[-150,400],"nice":false,"zero":false},"axis":{"orient":"left","values":[],"grid":false,"labels":false,"ticks":false,"domain":false,"title":"ST Reference","titleColor":"#ff0000","titleY":40.6}}}}
 ],"resolve":{"scale":{"y":"independent"},"axis":{"y":"independent"}}},
{"width":1000,"height":49,"data":{"name":"l0dev"},"mark":"line","encoding":{
 "x":{"field":"t","type":"quantitative","scale":{"domain":[0,360],"nice":false,"zero":false},"axis":{"values":[0,30,60,90,120,150,180,210,240,270,300,330,359.64],"title":null,"gridDash":{"condition":{"test":"datum.value>359","value":[]},"value":[1,4]}}},
 "y":{"field":"v","type":"quantitative","scale":{"domain":[-290,200],"nice":false,"zero":false},"axis":{"values":[-290,-200,-100,0,100],"labelExpr":"datum.value<-250?'':datum.label","gridDash":{"condition":{"test":"datum.value==0||datum.value<-250","value":[]},"value":[1,2]},"title":["[uV]","ST Deviation"],"titleY":-3.9,"titleLineHeight":23.2}}}},
{"width":1000,"height":11,"data":{"name":"epis"},"mark":{"type":"rect","fill":"#ffffff","stroke":"#000000","strokeWidth":1},"encoding":{
 "x":{"field":"s","type":"quantitative","scale":{"domain":[0,360],"nice":false,"zero":false},"axis":{"values":[0,30,60,90,120,150,180,210,240,270,300,330,359.64],"title":null,"gridDash":{"condition":{"test":"datum.value>359","value":[]},"value":[1,4]}}},
 "x2":{"field":"e"},
 "y":{"datum":11,"type":"quantitative","scale":{"domain":[0,11],"nice":false,"zero":false},"axis":{"values":[0],"labels":false,"gridDash":[],"title":["Is/RR","Ax/CC"],"titleY":4.6,"titleLineHeight":10.5}},
 "y2":{"datum":7.5}}},
{"width":1000,"height":45,"layer":[
 {"data":{"name":"l0sl"},"mark":"line","encoding":{
  "x":{"field":"t","type":"quantitative","scale":{"domain":[0,360],"nice":false,"zero":false},"axis":{"values":[0,30,60,90,120,150,180,210,240,270,300,330,359.64],"title":null,"gridDash":{"condition":{"test":"datum.value>359","value":[]},"value":[1,4]}}},
  "y":{"field":"v","type":"quantitative","scale":{"domain":[-100,350],"nice":false,"zero":false},"axis":{"values":[0,100,200],"gridDash":{"condition":{"test":"datum.value==0","value":[]},"value":[1,2]},"title":"ST Slope","titleY":34.6}}}},
 {"data":{"name":"axcc"},"mark":"rule","encoding":{
  "x":{"field":"t","type":"quantitative","scale":{"domain":[0,360],"nice":false,"zero":false},"axis":{"values":[0,30,60,90,120,150,180,210,240,270,300,330,359.64],"title":null,"gridDash":{"condition":{"test":"datum.value>359","value":[]},"value":[1,4]}}},
  "y":{"datum":350},"y2":{"datum":310}}}
 ]},
{"width":1000,"height":55,"layer":[
 {"data":{"name":"l1lev"},"mark":"line","encoding":{
  "x":{"field":"t","type":"quantitative","scale":{"domain":[0,360],"nice":false,"zero":false},"axis":{"values":[0,30,60,90,120,150,180,210,240,270,300,330,359.64],"title":null,"gridDash":{"condition":{"test":"datum.value>359","value":[]},"value":[1,4]}}},
  "y":{"field":"v","type":"quantitative","scale":{"domain":[-150,400],"nice":false,"zero":false},"axis":{"values":[-100,0,100,200,367],"labelExpr":"datum.value>300?'':datum.label","gridDash":{"condition":{"test":"datum.value==0","value":[]},"value":[1,2]},"gridOpacity":{"condition":{"test":"datum.value>300","value":0},"value":1},"tickColor":{"condition":{"test":"datum.value>300","value":"#000000"},"value":"transparent"},"title":["Lead 1:","ST Level"],"titleY":16.6,"titleLineHeight":12.3}}}},
 {"data":{"name":"l1ref"},"mark":{"type":"line","color":"#ff0000"},"encoding":{
  "x":{"field":"t","type":"quantitative","scale":{"domain":[0,360],"nice":false,"zero":false},"axis":{"values":[0,30,60,90,120,150,180,210,240,270,300,330,359.64],"title":null,"gridDash":{"condition":{"test":"datum.value>359","value":[]},"value":[1,4]}}},
  "y":{"field":"v","type":"quantitative","scale":{"domain":[-150,400],"nice":false,"zero":false},"axis":{"orient":"left","values":[],"grid":false,"labels":false,"ticks":false,"domain":false,"title":"ST Reference","titleColor":"#ff0000","titleY":40.3}}}}
 ],"resolve":{"scale":{"y":"independent"},"axis":{"y":"independent"}}},
{"width":1000,"height":49,"data":{"name":"l1dev"},"mark":"line","encoding":{
 "x":{"field":"t","type":"quantitative","scale":{"domain":[0,360],"nice":false,"zero":false},"axis":{"values":[0,30,60,90,120,150,180,210,240,270,300,330,359.64],"title":null,"gridDash":{"condition":{"test":"datum.value>359","value":[]},"value":[1,4]}}},
 "y":{"field":"v","type":"quantitative","scale":{"domain":[-290,200],"nice":false,"zero":false},"axis":{"values":[-290,-200,-100,0,100],"labelExpr":"datum.value<-250?'':datum.label","gridDash":{"condition":{"test":"datum.value==0||datum.value<-250","value":[]},"value":[1,2]},"title":["[uV]","ST Deviation"],"titleY":-3.7,"titleLineHeight":23.3}}}},
{"width":1000,"height":11,"data":{"values":[{}]},"mark":{"type":"point","opacity":0},"encoding":{
 "x":{"datum":0,"type":"quantitative","scale":{"domain":[0,360],"nice":false,"zero":false},"axis":{"values":[0,30,60,90,120,150,180,210,240,270,300,330,359.64],"title":null,"gridDash":{"condition":{"test":"datum.value>359","value":[]},"value":[1,4]}}},
 "y":{"datum":0,"type":"quantitative","scale":{"domain":[0,11],"nice":false,"zero":false},"axis":{"values":[0],"labels":false,"gridDash":[],"title":["Is/RR","Ax/CC"],"titleY":4.6,"titleLineHeight":10.7}}}},
{"width":1000,"height":45,"data":{"name":"l1sl"},"mark":"line","encoding":{
 "x":{"field":"t","type":"quantitative","scale":{"domain":[0,360],"nice":false,"zero":false},"axis":{"values":[0,30,60,90,120,150,180,210,240,270,300,330,359.64],"title":null,"gridDash":{"condition":{"test":"datum.value>359","value":[]},"value":[1,4]}}},
 "y":{"field":"v","type":"quantitative","scale":{"domain":[-100,350],"nice":false,"zero":false},"axis":{"values":[0,100,200],"gridDash":{"condition":{"test":"datum.value==0","value":[]},"value":[1,2]},"title":"ST Slope","titleY":34.3}}}},
{"width":1000,"height":180,"data":{"values":[{}]},"mark":{"type":"point","opacity":0},"encoding":{
 "x":{"datum":0,"type":"quantitative","scale":{"domain":[0,360],"nice":false,"zero":false},"axis":{"values":[0,30,60,90,120,150,180,210,240,270,300,330,359.64],"title":null,"gridDash":{"condition":{"test":"datum.value>359","value":[]},"value":[1,4]}}},
 "y":{"datum":0,"type":"quantitative","scale":{"domain":[0,180],"nice":false,"zero":false},"axis":{"values":[0,176.7],"labels":false,"gridDash":{"condition":{"test":"datum.value==0","value":[]},"value":[1,2]},"gridOpacity":{"condition":{"test":"datum.value>100","value":0},"value":1},"tickColor":{"condition":{"test":"datum.value>100","value":"#000000"},"value":"transparent"},"title":"Unread/Noise 10","titleY":180.3}}}},
{"width":1000,"height":15,"data":{"values":[{}]},"mark":{"type":"point","opacity":0},"encoding":{
 "x":{"datum":0,"type":"quantitative","scale":{"domain":[0,360],"nice":false,"zero":false},"axis":{"values":[0,30,60,90,120,150,180,210,240,270,300,330,359.64],"title":null,"gridDash":{"condition":{"test":"datum.value>359","value":[]},"value":[1,4]}}},
 "y":{"datum":0,"type":"quantitative","scale":{"domain":[0,15],"nice":false,"zero":false},"axis":{"values":[0],"labels":false,"gridDash":[],"title":"Unread/Noise 11","titleY":13.6}}}},
{"width":1000,"height":30,"data":{"values":[{}]},"mark":{"type":"point","opacity":0},"encoding":{
 "x":{"datum":0,"type":"quantitative","scale":{"domain":[0,360],"nice":false,"zero":false},"axis":{"values":[0,30,60,90,120,150,180,210,240,270,300,330,359.64],"title":null,"gridDash":{"condition":{"test":"datum.value>359","value":[]},"value":[1,4]}}},
 "y":{"datum":0,"type":"quantitative","scale":{"domain":[0,30],"nice":false,"zero":false},"axis":{"values":[0],"labels":false,"gridDash":[],"title":"Abnormal Beats","titleY":28.6}}}},
{"width":1000,"height":10,"data":{"name":"ab"},"mark":"rule","encoding":{
 "x":{"field":"t","type":"quantitative","scale":{"domain":[0,360],"nice":false,"zero":false},"axis":{"values":[0,30,60,90,120,150,180,210,240,270,300,330,359.64],"title":null,"gridDash":{"condition":{"test":"datum.value>359","value":[]},"value":[1,4]}}},
 "y":{"datum":10,"type":"quantitative","scale":{"domain":[0,10],"nice":false,"zero":false},"axis":{"values":[],"grid":false,"labels":false,"title":null}},
 "y2":{"datum":7}}},
{"width":1000,"height":25,"data":{"name":"k1"},"mark":"line","encoding":{
 "x":{"field":"t","type":"quantitative","scale":{"domain":[0,360],"nice":false,"zero":false},"axis":{"values":[0,30,60,90,120,150,180,210,240,270,300,330,359.64],"title":null,"gridDash":{"condition":{"test":"datum.value>359","value":[]},"value":[1,4]}}},
 "y":{"field":"v","type":"quantitative","scale":{"domain":[0,5],"nice":false,"zero":false},"axis":{"values":[0,2,4.85],"labelFontSize":8,"labelExpr":"datum.value>3?'':datum.label","gridDash":{"condition":{"test":"datum.value==0","value":[]},"value":[1,2]},"gridOpacity":{"condition":{"test":"datum.value>3","value":0},"value":1},"tickColor":{"condition":{"test":"datum.value>3","value":"#000000"},"value":"transparent"},"title":"QRS KL1 [std]","titleY":23.6}}}},
{"width":1000,"height":25,"data":{"name":"k2"},"mark":"line","encoding":{
 "x":{"field":"t","type":"quantitative","scale":{"domain":[0,360],"nice":false,"zero":false},"axis":{"values":[0,30,60,90,120,150,180,210,240,270,300,330,359.64],"title":null,"gridDash":{"condition":{"test":"datum.value>359","value":[]},"value":[1,4]}}},
 "y":{"field":"v","type":"quantitative","scale":{"domain":[0,5],"nice":false,"zero":false},"axis":{"values":[0,2],"labelFontSize":8,"gridDash":{"condition":{"test":"datum.value==0","value":[]},"value":[1,2]},"title":"QRS KL2","titleY":23.6}}}},
{"width":1000,"height":25,"data":{"name":"k3"},"mark":"line","encoding":{
 "x":{"field":"t","type":"quantitative","scale":{"domain":[0,360],"nice":false,"zero":false},"axis":{"values":[0,30,60,90,120,150,180,210,240,270,300,330,359.64],"title":null,"gridDash":{"condition":{"test":"datum.value>359","value":[]},"value":[1,4]}}},
 "y":{"field":"v","type":"quantitative","scale":{"domain":[0,5],"nice":false,"zero":false},"axis":{"values":[0,2],"labelFontSize":8,"gridDash":{"condition":{"test":"datum.value==0","value":[]},"value":[1,2]},"title":"QRS KL3","titleY":23.6}}}},
{"width":1000,"height":25,"data":{"name":"k4"},"mark":"line","encoding":{
 "x":{"field":"t","type":"quantitative","scale":{"domain":[0,360],"nice":false,"zero":false},"axis":{"values":[0,30,60,90,120,150,180,210,240,270,300,330,359.64],"title":null,"gridDash":{"condition":{"test":"datum.value>359","value":[]},"value":[1,4]}}},
 "y":{"field":"v","type":"quantitative","scale":{"domain":[0,5],"nice":false,"zero":false},"axis":{"values":[0,2],"labelFontSize":8,"gridDash":{"condition":{"test":"datum.value==0","value":[]},"value":[1,2]},"title":"QRS KL4","titleY":23.6}}}},
{"width":1000,"height":25,"data":{"name":"k5"},"mark":"line","encoding":{
 "x":{"field":"t","type":"quantitative","scale":{"domain":[0,360],"nice":false,"zero":false},"axis":{"values":[0,30,60,90,120,150,180,210,240,270,300,330,359.64],"title":null,"gridDash":{"condition":{"test":"datum.value>359","value":[]},"value":[1,4]}}},
 "y":{"field":"v","type":"quantitative","scale":{"domain":[0,5],"nice":false,"zero":false},"axis":{"values":[0,2],"labelFontSize":8,"gridDash":{"condition":{"test":"datum.value==0","value":[]},"value":[1,2]},"title":"QRS KL5","titleY":23.6}}}},
{"width":1000,"height":25,"data":{"name":"k6"},"mark":"line","encoding":{
 "x":{"field":"t","type":"quantitative","scale":{"domain":[0,360],"nice":false,"zero":false},"axis":{"values":[0,30,60,90,120,150,180,210,240,270,300,330,359.64],"title":null,"gridDash":{"condition":{"test":"datum.value>359","value":[]},"value":[1,4]}}},
 "y":{"field":"v","type":"quantitative","scale":{"domain":[0,5],"nice":false,"zero":false},"axis":{"values":[0,2],"labelFontSize":8,"gridDash":{"condition":{"test":"datum.value==0","value":[]},"value":[1,2]},"title":"QRS Distance","titleY":23.6}}}},
{"width":1000,"height":25,"data":{"name":"k7"},"mark":"line","encoding":{
 "x":{"field":"t","type":"quantitative","scale":{"domain":[0,360],"nice":false,"zero":false},"axis":{"values":[0,30,60,90,120,150,180,210,240,270,300,330,359.64],"title":null,"gridDash":{"condition":{"test":"datum.value>359","value":[]},"value":[1,4]}}},
 "y":{"field":"v","type":"quantitative","scale":{"domain":[0,5],"nice":false,"zero":false},"axis":{"values":[0,2],"labelFontSize":8,"gridDash":{"condition":{"test":"datum.value==0","value":[]},"value":[1,2]},"title":"ST KL1 [std]","titleY":23.6}}}},
{"width":1000,"height":25,"data":{"name":"k8"},"mark":"line","encoding":{
 "x":{"field":"t","type":"quantitative","scale":{"domain":[0,360],"nice":false,"zero":false},"axis":{"values":[0,30,60,90,120,150,180,210,240,270,300,330,359.64],"title":null,"gridDash":{"condition":{"test":"datum.value>359","value":[]},"value":[1,4]}}},
 "y":{"field":"v","type":"quantitative","scale":{"domain":[0,5],"nice":false,"zero":false},"axis":{"values":[0,2],"labelFontSize":8,"gridDash":{"condition":{"test":"datum.value==0","value":[]},"value":[1,2]},"title":"ST KL2","titleY":23.6}}}},
{"width":1000,"height":25,"data":{"name":"k9"},"mark":"line","encoding":{
 "x":{"field":"t","type":"quantitative","scale":{"domain":[0,360],"nice":false,"zero":false},"axis":{"values":[0,30,60,90,120,150,180,210,240,270,300,330,359.64],"title":null,"gridDash":{"condition":{"test":"datum.value>359","value":[]},"value":[1,4]}}},
 "y":{"field":"v","type":"quantitative","scale":{"domain":[0,5],"nice":false,"zero":false},"axis":{"values":[0,2],"labelFontSize":8,"gridDash":{"condition":{"test":"datum.value==0","value":[]},"value":[1,2]},"title":"ST KL3","titleY":23.6}}}},
{"width":1000,"height":25,"data":{"name":"k10"},"mark":"line","encoding":{
 "x":{"field":"t","type":"quantitative","scale":{"domain":[0,360],"nice":false,"zero":false},"axis":{"values":[0,30,60,90,120,150,180,210,240,270,300,330,359.64],"title":null,"gridDash":{"condition":{"test":"datum.value>359","value":[]},"value":[1,4]}}},
 "y":{"field":"v","type":"quantitative","scale":{"domain":[0,5],"nice":false,"zero":false},"axis":{"values":[0,2],"labelFontSize":8,"gridDash":{"condition":{"test":"datum.value==0","value":[]},"value":[1,2]},"title":"ST KL4","titleY":23.6}}}},
{"width":1000,"height":25,"data":{"name":"k11"},"mark":"line","encoding":{
 "x":{"field":"t","type":"quantitative","scale":{"domain":[0,360],"nice":false,"zero":false},"axis":{"values":[0,30,60,90,120,150,180,210,240,270,300,330,359.64],"title":null,"gridDash":{"condition":{"test":"datum.value>359","value":[]},"value":[1,4]}}},
 "y":{"field":"v","type":"quantitative","scale":{"domain":[0,5],"nice":false,"zero":false},"axis":{"values":[0,2],"labelFontSize":8,"gridDash":{"condition":{"test":"datum.value==0","value":[]},"value":[1,2]},"title":"ST KL5","titleY":23.6}}}},
{"width":1000,"height":25,"data":{"name":"k12"},"mark":"line","encoding":{
 "x":{"field":"t","type":"quantitative","scale":{"domain":[0,360],"nice":false,"zero":false},"axis":{"values":[0,30,60,90,120,150,180,210,240,270,300,330,359.64],"gridDash":{"condition":{"test":"datum.value>359","value":[]},"value":[1,4]},"labels":true,"ticks":true,"tickSize":12,"tickDash":[1,2],"tickOpacity":{"condition":{"test":"datum.value>359","value":0},"value":1},"labelExpr":"datum.value>359?'':datum.value==0?'0:00':datum.value<60?datum.value+':00':floor(datum.value/60)+':'+(datum.value%60==0?'00':'30')+':00'","labelAlign":{"condition":{"test":"datum.value==30","value":"center"},"value":"left"},"labelBaseline":"middle","labelPadding":11,"title":["Time","[hh:mm:ss]"],"titleX":-96,"titleY":17.6,"titleAlign":"left","titleBaseline":"alphabetic","titleAngle":0,"titleLineHeight":9}},
 "y":{"field":"v","type":"quantitative","scale":{"domain":[0,5],"nice":false,"zero":false},"axis":{"values":[-1.66,0,2],"labelFontSize":8,"labelExpr":"datum.value<-1?'':datum.label","gridDash":{"condition":{"test":"datum.value==0","value":[]},"value":[1,2]},"gridOpacity":{"condition":{"test":"datum.value<-1","value":0},"value":1},"tickColor":{"condition":{"test":"datum.value<-1","value":"#000000"},"value":"transparent"},"tickDash":[0,25,72,200],"title":"ST Distance","titleY":23.6}}}}
],
"config":{
 "view":{"stroke":null},
 "axis":{"labelFont":"DejaVu Sans Mono","titleFont":"DejaVu Sans Mono","labelFontSize":10,"titleFontSize":10,"titleFontWeight":"normal","labelColor":"#000000","titleColor":"#000000","gridColor":"#000000","gridWidth":1,"gridOpacity":1,"domainColor":"#000000","domainWidth":1,"tickColor":"#000000","tickWidth":1,"labelOverlap":false,"labelFlush":false},
 "axisX":{"labels":false,"ticks":false,"domain":false,"grid":true},
 "axisY":{"domain":true,"grid":true,"ticks":true,"tickSize":97,"tickColor":"transparent","tickDash":[0,4,93,200],"labelPadding":-94,"gridDash":[1,2],"titleAngle":0,"titleAlign":"left","titleBaseline":"alphabetic","titleX":-96,"titleLineHeight":11.5},
 "line":{"color":"#000000","strokeWidth":1},
 "rule":{"color":"#000000","strokeWidth":1}
}
}
